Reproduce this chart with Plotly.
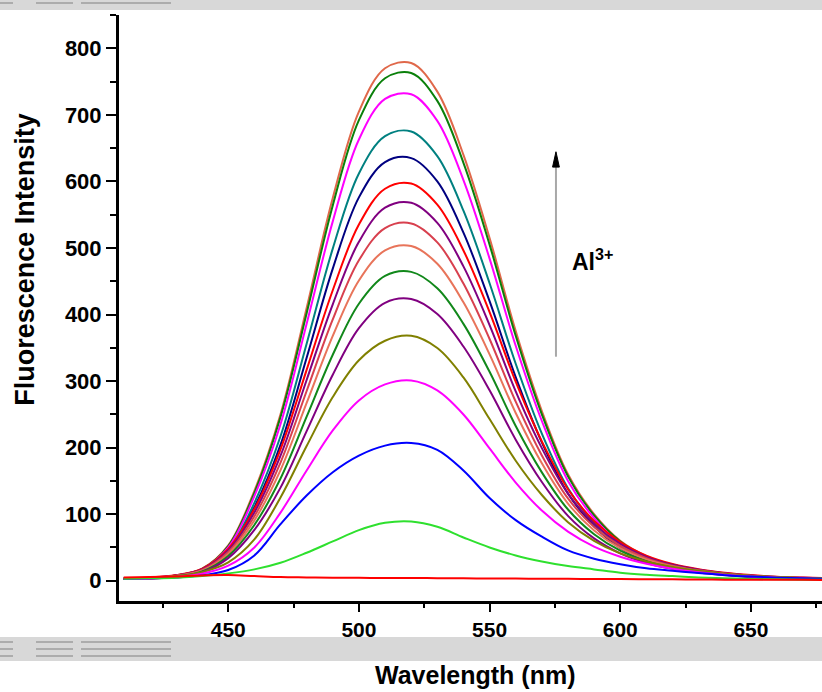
import plotly.graph_objects as go

# ---------------- data ----------------
wavelength_nm = [410, 420, 430, 440, 450, 460, 470, 480, 490, 500, 510, 520, 530, 540,
                 550, 560, 570, 580, 590, 600, 610, 620, 630, 640, 650, 660, 670, 680]

curve_01 = [3.1, 3.9, 7.8, 18, 53, 135, 250, 410, 575, 705, 770, 778, 735, 640, 515, 375, 255, 160, 100, 60, 37, 24, 16, 11, 7, 5, 4, 3]
curve_02 = [3.1, 3.8, 7.7, 17.6, 52, 132, 246, 402, 564, 692, 755, 763, 721, 628, 505, 368, 250, 157, 98, 59, 36, 24, 16, 10.7, 6.9, 4.6, 3.8, 3.1]
curve_03 = [2.9, 3.7, 7.3, 17, 50, 127, 235, 386, 540, 663, 724, 731, 691, 602, 484, 353, 240, 150, 94, 56, 34.5, 22.7, 15.4, 10.3, 6.6, 4.4, 3.7, 2.9]
curve_04 = [2.7, 3.4, 6.8, 15.6, 46, 117, 217, 356, 499, 612, 668, 675, 638, 556, 447, 326, 221, 139, 87, 52, 32, 21, 14.2, 9.5, 6.1, 4.1, 3.4, 2.7]
curve_05 = [2.5, 3.2, 6.4, 14.7, 43, 110, 204, 335, 469, 576, 629, 635, 600, 523, 420, 306, 208, 131, 82, 49, 30, 20, 13.4, 8.9, 5.7, 3.8, 3.2, 2.5]
curve_06 = [3.6, 4.8, 8.4, 17.9, 47.8, 107.6, 197.3, 316.9, 436.5, 535.2, 589, 596.8, 565, 496.3, 403.7, 299, 209.3, 137.5, 89.7, 58, 37.7, 25.1, 17.3, 12, 8.4, 6, 4.8, 3.6]
curve_07 = [3.4, 4.6, 8, 17, 45.5, 102.4, 187.8, 301.6, 415.4, 509.3, 560.5, 567.9, 537.7, 472.3, 384.1, 284.5, 199.2, 130.9, 85.4, 55.2, 35.8, 23.9, 16.5, 11.4, 8, 5.7, 4.6, 3.4]
curve_08 = [3.2, 4.3, 7.5, 16.1, 43, 96.8, 177.5, 285.1, 392.7, 481.5, 529.9, 536.9, 508.4, 446.5, 363.2, 269, 188.3, 123.7, 80.7, 52.2, 33.9, 22.6, 15.6, 10.8, 7.5, 5.4, 4.3, 3.2]
curve_09 = [3, 4, 7.1, 15.1, 40.3, 90.7, 166.3, 267.1, 367.9, 451.1, 496.4, 503, 476.3, 418.3, 340.2, 252, 176.4, 115.9, 75.6, 48.9, 31.8, 21.2, 14.6, 10.1, 7.1, 5, 4, 3]
curve_10 = [2.8, 3.7, 6.5, 14, 37.2, 83.7, 153.5, 246.5, 339.5, 416.2, 458, 464.1, 439.4, 386, 313.9, 232.5, 162.8, 107, 69.8, 45.1, 29.3, 19.5, 13.5, 9.3, 6.5, 4.7, 3.7, 2.8]
curve_11 = [2.5, 3.4, 5.9, 12.7, 33.9, 76.3, 139.9, 224.7, 309.5, 379.5, 417.6, 423.2, 400.7, 351.9, 286.2, 212, 148.4, 97.5, 63.6, 41.1, 26.7, 17.8, 12.3, 8.5, 5.9, 4.2, 3.4, 2.5]
curve_12 = [2.9, 3.7, 6.6, 12.9, 27.6, 62, 125.1, 202.4, 276, 331.2, 360.6, 368, 349.6, 305.4, 242.9, 180.3, 128.8, 88, 60, 41, 29, 20.5, 14.8, 10.5, 7.5, 5.4, 4, 2.9]
curve_13 = [2.4, 3, 5.4, 10.5, 22.6, 50, 102.3, 165.6, 225.8, 270.9, 295, 301, 286, 249.8, 198.7, 147.5, 105.4, 73.7, 51.2, 36.1, 25.6, 18.1, 12.9, 9, 6.3, 4.5, 3.3, 2.4]
curve_14 = [3.1, 3.7, 4.8, 8, 16, 38, 85, 128, 163, 188, 203, 207, 196.7, 165.6, 124.2, 91.1, 66.2, 45.5, 33.1, 24.8, 18.6, 14.9, 11.4, 8.3, 6.2, 4.6, 3.5, 2.7]
curve_15 = [3, 3.5, 4.5, 7, 11, 17, 27, 42, 59, 76, 87, 89, 81, 65, 50, 38, 29, 22, 17, 12, 9, 7, 5, 3.6, 2.7, 2, 1.5, 1.2]
curve_16 = [5, 5.5, 6.5, 8, 8.5, 7, 5.5, 5, 4.5, 4.3, 4, 4, 3.8, 3.6, 3.4, 3.2, 3, 2.8, 2.6, 2.4, 2.2, 2, 1.8, 1.6, 1.5, 1.4, 1.3, 1.2]

x_tick_values = [450, 500, 550, 600, 650]
y_tick_values = [0, 100, 200, 300, 400, 500, 600, 700, 800]

series = [curve_01, curve_02, curve_03, curve_04, curve_05, curve_06, curve_07, curve_08,
          curve_09, curve_10, curve_11, curve_12, curve_13, curve_14, curve_15, curve_16]
colors = ["#E0684A", "#0A800A", "#FF00FF", "#008080", "#000080", "#FF0000", "#800080", "#D8404E",
          "#E8745A", "#11881A", "#800080", "#808000", "#FF00FF", "#0000FF", "#2EE02E", "#FF0000"]

FONT = "Liberation Sans, Arial, sans-serif"

fig = go.Figure()
for vals, col in zip(series, colors):
    fig.add_trace(go.Scatter(x=wavelength_nm, y=vals, mode="lines",
                             line=dict(color=col, width=2, shape="spline", smoothing=1.0),
                             showlegend=False, hoverinfo="skip"))

X0, X1 = 408.2, 677.2
Y0, Y1 = -30.5, 850.1

fig.update_layout(
    width=822, height=692,
    margin=dict(l=119, r=0, t=15, b=91),
    paper_bgcolor="white", plot_bgcolor="white",
    font=dict(family=FONT, color="black"),
    xaxis=dict(range=[X0, X1], tickvals=x_tick_values, ticks="outside", ticklen=8, tickwidth=2,
               tickcolor="black", showline=True, linewidth=3, linecolor="black", showgrid=False,
               zeroline=False, tickfont=dict(family=FONT, size=21, weight="bold"),
               minor=dict(dtick=25, tick0=425, ticks="outside", ticklen=4, tickwidth=2, tickcolor="black", showgrid=False)),
    yaxis=dict(range=[Y0, Y1], tickvals=y_tick_values, ticks="outside", ticklen=10, tickwidth=2,
               tickcolor="black", showline=True, linewidth=3, linecolor="black", showgrid=False,
               zeroline=False, tickfont=dict(family=FONT, size=22, weight="bold"),
               minor=dict(dtick=50, tick0=50, ticks="outside", ticklen=6, tickwidth=2, tickcolor="black", showgrid=False)),
)

# axis titles
fig.add_annotation(text="Wavelength (nm)", xref="paper", yref="paper", x=0.5064, y=-0.099,
                   xanchor="center", yanchor="top", showarrow=False,
                   font=dict(family=FONT, size=25, weight="bold"))
fig.add_annotation(text="Fluorescence Intensity", xref="paper", yref="paper", x=-0.134, y=0.5836,
                   xanchor="center", yanchor="middle", textangle=-90, showarrow=False,
                   font=dict(family=FONT, size=27, weight="bold"))

# Al3+ arrow and label
AX = 575.4
fig.add_shape(type="line", xref="x", yref="y", x0=AX, x1=AX, y0=336.6, y1=622,
              line=dict(color="#A8A8A8", width=2))
fig.add_shape(type="path", xref="x", yref="y",
              path=f"M {AX-1.3},621.5 L {AX},644.6 L {AX+1.3},621.5 Z",
              fillcolor="black", line=dict(color="black", width=1))
fig.add_annotation(text="Al<sup>3+</sup>", xref="x", yref="y", x=580.7, y=482,
                   xanchor="left", yanchor="middle", showarrow=False,
                   font=dict(family=FONT, size=23, weight="bold"))

# grey bands of the original page
def px_x(p):
    return (p - 119) / 703.0
def px_y(p):
    return (601 - p) / 586.0

fig.add_shape(type="rect", xref="paper", yref="paper", x0=px_x(0), x1=px_x(822), y0=px_y(10), y1=px_y(0),
              fillcolor="#D8D8D8", line=dict(width=0), layer="below")
fig.add_shape(type="rect", xref="paper", yref="paper", x0=px_x(0), x1=px_x(822), y0=px_y(661), y1=px_y(637),
              fillcolor="#D8D8D8", line=dict(width=0), layer="below")
for (a, b) in [(0, 13), (36, 73), (81, 171)]:
    fig.add_shape(type="line", xref="paper", yref="paper", x0=px_x(a), x1=px_x(b), y0=px_y(3), y1=px_y(3),
                  line=dict(color="#808080", width=1))
    for yy in [642, 649, 656]:
        fig.add_shape(type="line", xref="paper", yref="paper", x0=px_x(a), x1=px_x(b), y0=px_y(yy), y1=px_y(yy),
                      line=dict(color="#808080", width=1))

fig.write_html("out.html", config={"displayModeBar": False},
               post_script="document.body.style.margin='0';document.body.style.overflow='hidden';"
                           "document.documentElement.style.overflow='hidden';")
